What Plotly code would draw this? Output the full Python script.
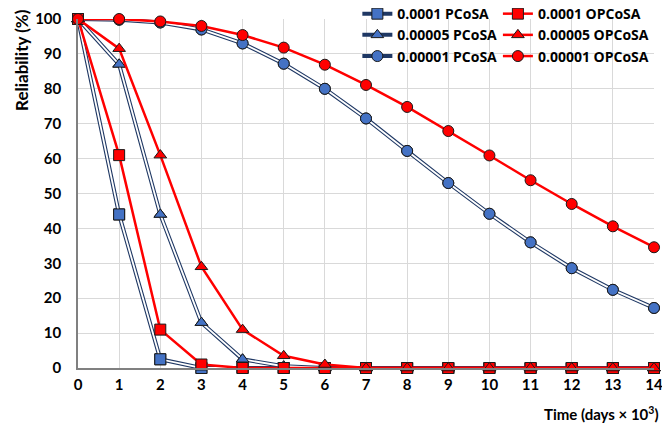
import plotly.graph_objects as go

time = list(range(15))
p1_pcosa = [100, 44, 2.5, 0, 0, 0, 0, 0, 0, 0, 0, 0, 0, 0, 0]
p1_opcosa = [100, 61, 11, 1, 0, 0, 0, 0, 0, 0, 0, 0, 0, 0, 0]
p5_pcosa = [100, 87, 44, 13, 2.5, 0.5, 0, 0, 0, 0, 0, 0, 0, 0, 0]
p5_opcosa = [100, 91.5, 61, 29, 11, 3.5, 1, 0, 0, 0, 0, 0, 0, 0, 0]
p10_pcosa = [100, 99.8, 99, 97, 93, 87.2, 80, 71.5, 62.2, 53, 44.2, 36, 28.6, 22.4, 17.2]
p10_opcosa = [100, 100, 99.3, 98, 95.4, 91.8, 86.9, 81.1, 74.8, 67.9, 60.9, 53.8, 47, 40.6, 34.6]

blue_series = [("0.0001 PCoSA", p1_pcosa, "square"),
               ("0.00005 PCoSA", p5_pcosa, "triangle-up"),
               ("0.00001 PCoSA", p10_pcosa, "circle")]
red_series = [("0.0001 OPCoSA", p1_opcosa, "square"),
              ("0.00005 OPCoSA", p5_opcosa, "triangle-up"),
              ("0.00001 OPCoSA", p10_opcosa, "circle")]

NAVY = "#1F3864"
BLUE = "#4472C4"
RED = "#FF0000"
OUT = "#1a1a1a"

fig = go.Figure()
for name, ys, sym in blue_series:
    fig.add_trace(go.Scatter(x=time, y=ys, name=name, mode="lines+markers",
                             line=dict(color=NAVY, width=4),
                             marker=dict(symbol=sym, size=11, color=BLUE, line=dict(color=OUT, width=1)),
                             legend="legend", cliponaxis=False))
    fig.add_trace(go.Scatter(x=time, y=ys, mode="lines", showlegend=False,
                             line=dict(color="white", width=1.8), hoverinfo="skip", cliponaxis=False))
    fig.add_trace(go.Scatter(x=time, y=ys, mode="markers", showlegend=False,
                             marker=dict(symbol=sym, size=11, color=BLUE, line=dict(color=OUT, width=1)),
                             hoverinfo="skip", cliponaxis=False))
for name, ys, sym in red_series:
    fig.add_trace(go.Scatter(x=time, y=ys, name=name, mode="lines+markers",
                             line=dict(color=RED, width=2.5),
                             marker=dict(symbol=sym, size=11, color=RED, line=dict(color=OUT, width=1)),
                             legend="legend2", cliponaxis=False))

FONT = "Lato"
LFONT = "Open Sans"
fig.update_layout(
    width=662, height=416,
    margin=dict(l=70, r=16, t=11, b=56, autoexpand=False),
    plot_bgcolor="white", paper_bgcolor="white",
    font=dict(family=FONT, size=14, color="black"),
    xaxis=dict(range=[0, 14], tickmode="array", tickvals=time, ticktext=[str(t) for t in time],
               showgrid=True, gridcolor="#d9d9d9", gridwidth=1,
               showline=True, linecolor="#808080", linewidth=1.5, zeroline=False,
               ticks="", tickfont=dict(family=FONT, size=15, color="black", weight="bold"),
               ticklabelstandoff=2),
    yaxis=dict(range=[0, 100], tickmode="array", tickvals=list(range(0, 101, 10)),
               showgrid=True, gridcolor="#d9d9d9", gridwidth=1,
               showline=True, linecolor="#808080", linewidth=1.5, zeroline=False,
               ticks="", tickfont=dict(family=FONT, size=15, color="black", weight="bold"),
               ticklabelstandoff=12),
    legend=dict(x=0.485, y=1.06, xanchor="left", yanchor="top",
                bgcolor="rgba(255,255,255,0)",
                font=dict(family=LFONT, size=14, weight="bold"), tracegroupgap=0, itemwidth=30),
    legend2=dict(x=0.729, y=1.06, xanchor="left", yanchor="top",
                 bgcolor="rgba(255,255,255,0)",
                 font=dict(family=LFONT, size=14, weight="bold"), tracegroupgap=0, itemwidth=30),
    annotations=[
        dict(text="Time (days × 10<sup>3</sup>)", xref="paper", yref="paper",
             x=1.012, y=-0.097, xanchor="right", yanchor="top", showarrow=False,
             font=dict(family=FONT, size=15, weight="bold")),
        dict(text="Reliability (%)", xref="paper", yref="paper", textangle=-90,
             x=-0.099, y=0.8825, xanchor="center", yanchor="middle", showarrow=False,
             font=dict(family=FONT, size=17, weight="bold")),
    ],
)

fig.write_html("out.html")
